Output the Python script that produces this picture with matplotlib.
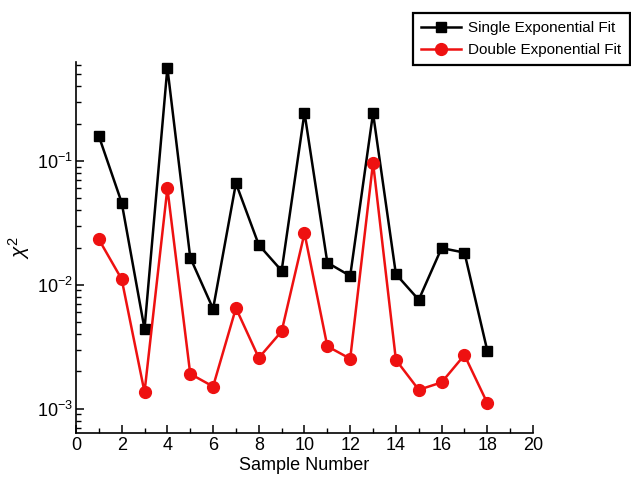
import matplotlib
matplotlib.use("Agg")
import matplotlib.pyplot as plt
from matplotlib.ticker import LogLocator, MultipleLocator, NullFormatter

plt.rcParams['font.family'] = ['Liberation Sans', 'DejaVu Sans']
plt.rcParams['mathtext.fontset'] = 'custom'
plt.rcParams['mathtext.rm'] = 'Liberation Sans'
plt.rcParams['mathtext.it'] = 'Liberation Sans:italic'

# Data
samples = list(range(1, 19))
single_fit = [0.159, 0.0461, 0.00440, 0.565, 0.0166, 0.00640, 0.0661, 0.0210, 0.0130,
              0.245, 0.0151, 0.0118, 0.243, 0.0122, 0.00757, 0.0198, 0.0182, 0.00294]
double_fit = [0.0233, 0.0111, 0.00136, 0.0602, 0.00191, 0.00151, 0.00649, 0.00257, 0.00421,
              0.0261, 0.00319, 0.00253, 0.0970, 0.00248, 0.00142, 0.00163, 0.00271, 0.00111]
series_labels = ["Single Exponential Fit", "Double Exponential Fit"]
xticks = list(range(0, 21, 2))
yticks = [1e-3, 1e-2, 1e-1]
ytick_labels = ["10$^{-3}$", "10$^{-2}$", "10$^{-1}$"]

fig = plt.figure(figsize=(6.31, 4.79), dpi=100)
ax = fig.add_axes([0.1204, 0.0967, 0.7243, 0.7745])

ax.plot(samples, single_fit, color="black", marker="s", markersize=7.5, linewidth=1.8,
        label=series_labels[0])
ax.plot(samples, double_fit, color="#ee1111", marker="o", markersize=8.5, linewidth=1.8,
        label=series_labels[1])

ax.set_yscale("log")
ax.set_xlim(0, 20)
ax.set_ylim(6.4e-4, 0.633)

ax.set_xticks(xticks)
ax.xaxis.set_minor_locator(MultipleLocator(1))
ax.set_yticks(yticks)
ax.set_yticklabels(ytick_labels)
ax.yaxis.set_minor_locator(LogLocator(base=10, subs=range(2, 10)))
ax.yaxis.set_minor_formatter(NullFormatter())

for side in ["top", "right"]:
    ax.spines[side].set_visible(False)
for side in ["left", "bottom"]:
    ax.spines[side].set_linewidth(1.2)

ax.tick_params(which="major", direction="in", length=6, width=1.1, labelsize=13, pad=3)
ax.tick_params(which="minor", direction="in", length=3.5, width=1.0)
ax.tick_params(axis="y", which="major", pad=2)

ax.set_xlabel("Sample Number", fontsize=13, labelpad=2)
ax.set_ylabel(r"$\chi^2$", fontsize=15, labelpad=4)

leg = fig.legend(loc="upper left", bbox_to_anchor=(413 / 631, 1 - 13 / 479), fontsize=11,
                 numpoints=1, handlelength=2.6, handletextpad=0.45, borderpad=0.55,
                 labelspacing=0.5, fancybox=False, framealpha=1, borderaxespad=0)
leg.get_frame().set_edgecolor("black")
leg.get_frame().set_linewidth(1.6)

fig.savefig("out.png", dpi=100)
